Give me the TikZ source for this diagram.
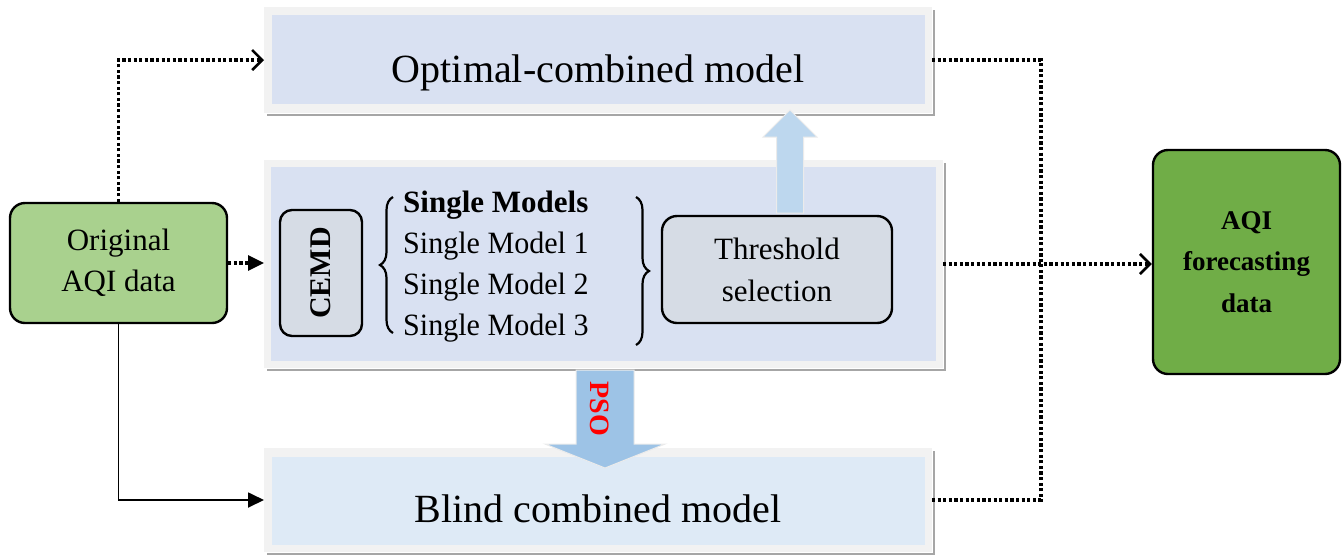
\documentclass[tikz,border=0pt]{standalone}
\usepackage{fontspec}
\setmainfont{Liberation Serif}
\newfontfamily\narrowserif[FakeStretch=0.97]{Liberation Serif}
\usetikzlibrary{arrows.meta,decorations.pathreplacing,calc}
\definecolor{framec}{HTML}{F2F2F2}
\definecolor{shadowc}{HTML}{A6A6A6}
\definecolor{optblue}{HTML}{D9E1F2}
\definecolor{blindblue}{HTML}{DEEAF6}
\definecolor{origgreen}{HTML}{A9D18E}
\definecolor{fcgreen}{HTML}{70AD47}
\definecolor{boxgray}{HTML}{D6DCE5}
\definecolor{uparrowc}{HTML}{BDD7EE}
\definecolor{psoarrowc}{HTML}{9DC3E6}
\begin{document}
\begin{tikzpicture}[x=1pt,y=-1pt,
  frame/.style={fill=framec, draw=none, inner sep=0pt, outer sep=0pt},
  rbox/.style={draw=black, line width=2.4pt, rounded corners=15pt, inner sep=0pt},
  bigtext/.style={font=\fontsize{40}{48}\selectfont, inner sep=0pt},
  midtext/.style={font=\fontsize{31}{41}\selectfont, inner sep=0pt, align=center},
  smtext/.style={anchor=base west, inner sep=0pt, font=\narrowserif\fontsize{31}{41}\selectfont},
  dotline/.style={line width=3.2pt, dash pattern=on 3.2pt off 2.4pt},
  openhead/.style={-{Straight Barb[length=10pt,width=20pt,line width=2.6pt]}},
  fullhead/.style={-{Triangle[length=16pt,width=15pt]}},
  shadowline/.style={draw=shadowc, line width=2pt},
  blockarrow/.style={draw=white!92!black, line width=1pt},
]
\useasboundingbox (0,0) rectangle (1342,558);

% ---- frames ----
\node[frame, minimum width=668, minimum height=106] (opt) at (598,60) {};
\fill[optblue] ($(opt.north west)+(8,8)$) rectangle ($(opt.south east)+(-7,-9)$);
\draw[shadowline] ($(opt.south west)+(3,2)$) -- ($(opt.south east)+(2,2)$) -- ($(opt.north east)+(2,3)$);

\node[frame, minimum width=679, minimum height=208] (mid) at (603.5,264) {};
\fill[optblue] ($(mid.north west)+(7,7)$) rectangle ($(mid.south east)+(-7,-7)$);
\draw[shadowline] ($(mid.south west)+(3,2)$) -- ($(mid.south east)+(2,2)$) -- ($(mid.north east)+(2,3)$);

\node[frame, minimum width=668, minimum height=104] (blind) at (598,500) {};
\fill[blindblue] ($(blind.north west)+(8,9)$) rectangle ($(blind.south east)+(-7,-7)$);
\draw[shadowline] ($(blind.south west)+(3,2)$) -- ($(blind.south east)+(2,2)$) -- ($(blind.north east)+(2,3)$);

% ---- frame texts ----
\node[bigtext, anchor=base] (optt) at (598,82) {Optimal-combined model};
\node[bigtext, anchor=base] (blindt) at (598,522) {Blind combined model};

% ---- side boxes ----
\node[rbox, fill=origgreen, minimum width=217, minimum height=120, midtext] (orig) at (118.5,263) {Original\\AQI data};
\node[rbox, fill=fcgreen, minimum width=187, minimum height=224, align=center,
      font=\bfseries\fontsize{27}{41.5}\selectfont] (fc) at (1246.5,262) {AQI\\forecasting\\data};

% ---- inner boxes ----
\node[rbox, rounded corners=12pt, fill=boxgray, minimum width=82, minimum height=126,
      font=\bfseries\fontsize{30}{36}\selectfont] (cemd) at (321,273) {\rotatebox{90}{CEMD}};
\node[rbox, fill=boxgray, minimum width=230, minimum height=107, midtext,
      font=\fontsize{31}{42}\selectfont] (thr) at (777,269.5) {Threshold\\selection};

\node[anchor=base west, inner sep=0pt, font=\bfseries\fontsize{31}{41}\selectfont] (sm0) at (403,212) {Single Models};
\node[smtext] (sm1) at (403,253) {Single Model 1};
\node[smtext] (sm2) at (403,294) {Single Model 2};
\node[smtext] (sm3) at (403,335) {Single Model 3};

% braces
\coordinate (lb1) at (393,333);
\coordinate (lb2) at (393,197);
\coordinate (rb1) at (636,197);
\coordinate (rb2) at (636,345);
\draw[line width=2.2pt, decorate, decoration={brace, amplitude=13pt}] (lb1) -- (lb2);
\draw[line width=2.2pt, decorate, decoration={brace, amplitude=13pt}] (rb1) -- (rb2);

% ---- block arrows ----
\filldraw[fill=uparrowc, blockarrow] (776.5,213) -- (776.5,137) -- (763,137) -- (790,110) -- (817,137) -- (803.5,137) -- (803.5,213) -- cycle;
\filldraw[fill=psoarrowc, blockarrow] (576,370) -- (576,444) -- (545,444) -- (605,468) -- (665,444) -- (634,444) -- (634,370) -- cycle;
\node[rotate=-90, text=red, inner sep=0pt, font=\bfseries\fontsize{28}{34}\selectfont] (pso) at (600,409) {PSO};

% ---- connectors ----
\coordinate (j) at (1041,264);
\draw[dotline, openhead] (orig.north) |- (opt.west);
\draw[dotline, fullhead] (orig.east) -- (orig.east -| mid.west);
\draw[line width=1.8pt, fullhead] (orig.south) |- (blind.west);
\draw[dotline] (opt.east) -| (j);
\draw[dotline] (blind.east) -| (j);
\draw[dotline, openhead] (mid.east) -- (mid.east -| fc.west);
\end{tikzpicture}
\end{document}
